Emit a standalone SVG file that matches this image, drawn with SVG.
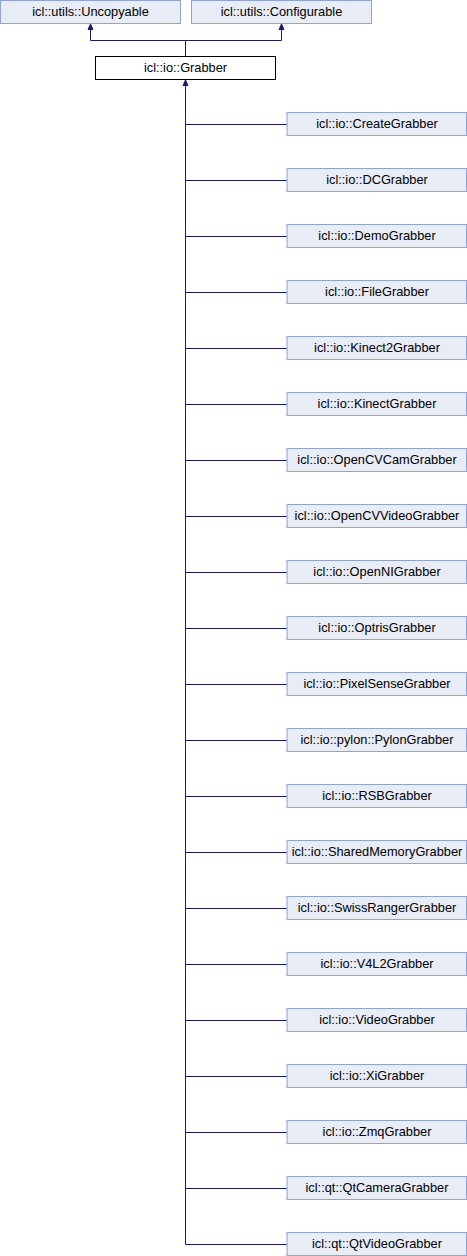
<svg xmlns="http://www.w3.org/2000/svg" width="467" height="1256" viewBox="0 0 467 1256">
<style>
.n rect{fill:#e8ecf5;stroke:#8ea3d4;stroke-width:1}
.g rect{fill:#ffffff;stroke:#000000;stroke-width:1}
text{font-family:"Liberation Sans",Arial,sans-serif;font-size:12.8px;fill:#000;text-anchor:middle}
.e{stroke:#191970;stroke-width:1;fill:none}
.a{fill:#191970;stroke:#191970;stroke-width:1}
</style>
<rect width="467" height="1256" fill="#fff"/>
<g id="connectors">
<path class="e" d="M185.5,56V40.5H90.5V29M185.5,40.5H281.5V29"/>
<polygon class="a" points="90.5,24 88,29.5 93,29.5"/>
<polygon class="a" points="281.5,24 279,29.5 284,29.5"/>
<polygon class="a" points="185.5,80 183,85.5 188,85.5"/>
<path class="e" d="M185.5,85V1244.5"/>
<path class="e" d="M185.5,124.5H287M185.5,180.5H287M185.5,236.5H287M185.5,292.5H287M185.5,348.5H287M185.5,404.5H287M185.5,460.5H287M185.5,516.5H287M185.5,572.5H287M185.5,628.5H287M185.5,684.5H287M185.5,740.5H287M185.5,796.5H287M185.5,852.5H287M185.5,908.5H287M185.5,964.5H287M185.5,1020.5H287M185.5,1076.5H287M185.5,1132.5H287M185.5,1188.5H287M185.5,1244.5H287"/>
</g>
<g id="uncopyable" class="n"><rect x="0.5" y="0.5" width="180" height="23"/><text x="90.5" y="16">icl::utils::Uncopyable</text></g>
<g id="configurable" class="n"><rect x="191.5" y="0.5" width="180" height="23"/><text x="281.5" y="16">icl::utils::Configurable</text></g>
<g id="grabber" class="g"><rect x="95.5" y="56.5" width="180" height="23"/><text x="185.5" y="72">icl::io::Grabber</text></g>
<g id="c1" class="n"><rect x="287" y="112.5" width="179.5" height="23"/><text x="377" y="128">icl::io::CreateGrabber</text></g>
<g id="c2" class="n"><rect x="287" y="168.5" width="179.5" height="23"/><text x="377" y="184">icl::io::DCGrabber</text></g>
<g id="c3" class="n"><rect x="287" y="224.5" width="179.5" height="23"/><text x="377" y="240">icl::io::DemoGrabber</text></g>
<g id="c4" class="n"><rect x="287" y="280.5" width="179.5" height="23"/><text x="377" y="296">icl::io::FileGrabber</text></g>
<g id="c5" class="n"><rect x="287" y="336.5" width="179.5" height="23"/><text x="377" y="352">icl::io::Kinect2Grabber</text></g>
<g id="c6" class="n"><rect x="287" y="392.5" width="179.5" height="23"/><text x="377" y="408">icl::io::KinectGrabber</text></g>
<g id="c7" class="n"><rect x="287" y="448.5" width="179.5" height="23"/><text x="377" y="464">icl::io::OpenCVCamGrabber</text></g>
<g id="c8" class="n"><rect x="287" y="504.5" width="179.5" height="23"/><text x="377" y="520">icl::io::OpenCVVideoGrabber</text></g>
<g id="c9" class="n"><rect x="287" y="560.5" width="179.5" height="23"/><text x="377" y="576">icl::io::OpenNIGrabber</text></g>
<g id="c10" class="n"><rect x="287" y="616.5" width="179.5" height="23"/><text x="377" y="632">icl::io::OptrisGrabber</text></g>
<g id="c11" class="n"><rect x="287" y="672.5" width="179.5" height="23"/><text x="377" y="688">icl::io::PixelSenseGrabber</text></g>
<g id="c12" class="n"><rect x="287" y="728.5" width="179.5" height="23"/><text x="377" y="744">icl::io::pylon::PylonGrabber</text></g>
<g id="c13" class="n"><rect x="287" y="784.5" width="179.5" height="23"/><text x="377" y="800">icl::io::RSBGrabber</text></g>
<g id="c14" class="n"><rect x="287" y="840.5" width="179.5" height="23"/><text x="377" y="856">icl::io::SharedMemoryGrabber</text></g>
<g id="c15" class="n"><rect x="287" y="896.5" width="179.5" height="23"/><text x="377" y="912">icl::io::SwissRangerGrabber</text></g>
<g id="c16" class="n"><rect x="287" y="952.5" width="179.5" height="23"/><text x="377" y="968">icl::io::V4L2Grabber</text></g>
<g id="c17" class="n"><rect x="287" y="1008.5" width="179.5" height="23"/><text x="377" y="1024">icl::io::VideoGrabber</text></g>
<g id="c18" class="n"><rect x="287" y="1064.5" width="179.5" height="23"/><text x="377" y="1080">icl::io::XiGrabber</text></g>
<g id="c19" class="n"><rect x="287" y="1120.5" width="179.5" height="23"/><text x="377" y="1136">icl::io::ZmqGrabber</text></g>
<g id="c20" class="n"><rect x="287" y="1176.5" width="179.5" height="23"/><text x="377" y="1192">icl::qt::QtCameraGrabber</text></g>
<g id="c21" class="n"><rect x="287" y="1232.5" width="179.5" height="23"/><text x="377" y="1248">icl::qt::QtVideoGrabber</text></g>
</svg>
